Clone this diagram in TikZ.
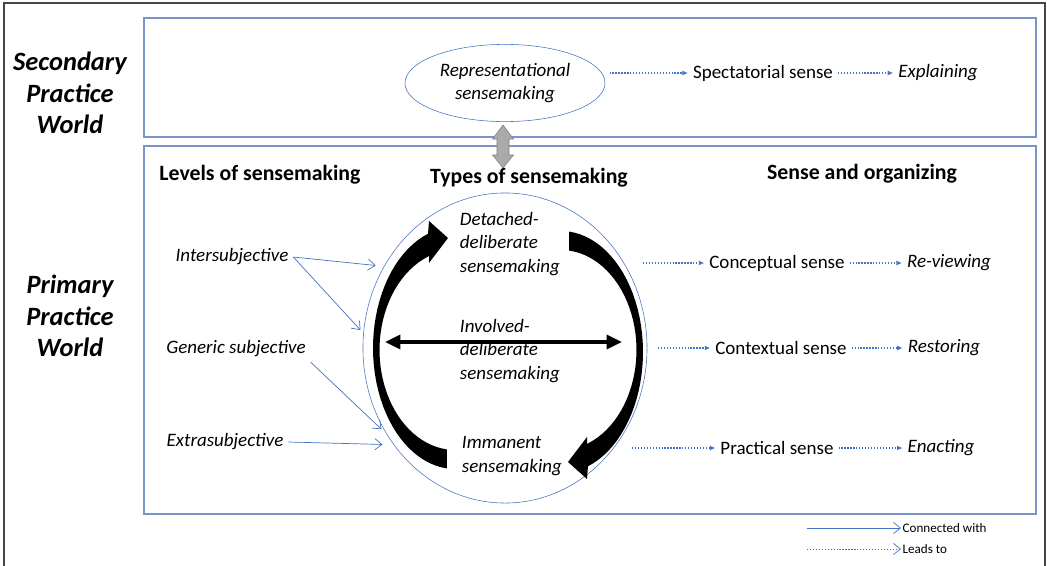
\documentclass[tikz,border=0pt]{standalone}
\usepackage{fontspec}
\setmainfont{Carlito}
\usepackage{tikz}
\usetikzlibrary{arrows.meta,shapes.geometric,calc}
\definecolor{frameblue}{RGB}{120,150,205}
\definecolor{lineblue}{RGB}{68,114,196}
\definecolor{arrowgray}{RGB}{170,170,170}
\definecolor{framegray}{RGB}{70,70,70}

\begin{document}
\begin{tikzpicture}
[x=0.025cm,y=-0.025cm,
box/.style={draw=frameblue,line width=0.9pt},
txt/.style={font=\fontsize{13.5}{16.7}\selectfont},
itxt/.style={font=\fontsize{13.5}{16.7}\selectfont\itshape},
world/.style={font=\fontsize{18.8}{22.4}\selectfont\bfseries\itshape,align=center},
head/.style={font=\fontsize{15.5}{18}\selectfont\bfseries},
legend/.style={font=\fontsize{9.3}{11}\selectfont,anchor=west,inner sep=1pt},
conn/.style={draw=lineblue,line width=0.5pt,-{Straight Barb[length=5pt,width=8pt]}},
lead/.style={draw=lineblue,dash pattern=on 0.9pt off 1.2pt,line width=0.8pt,-{Latex[length=4pt,width=3.5pt]}}]
\useasboundingbox (0,0) rectangle (1047,566);

\draw[framegray,line width=1pt] (4,566) -- (4,3) -- (1045,3) -- (1045,566);
\draw[box] (144,18) rectangle (1036,137);
\draw[box] (144,146) rectangle (1036,514);

\node (world2) at (70,93) [world] {Secondary\\Practice\\World};
\node (world1) at (70,316) [world] {Primary\\Practice\\World};

\node (rep) at (505,83) [ellipse,draw=lineblue,minimum width=5cm,minimum height=1.93cm,inner sep=0pt,align=center,itxt] {Representational\\sensemaking};
\node (spect) at (763,73) [txt] {Spectatorial sense};
\node (explain) at (938,73) [itxt] {Explaining};
\draw[lead] ([xshift=3pt]rep.east |- spect.west) -- (spect.west);
\draw[lead] (spect.east) -- (explain.west);

\draw[gray,fill=arrowgray] (503,125) -- (513.5,139) -- (509,139) -- (509,155) -- (513.5,155)
  -- (503,168) -- (492.5,155) -- (497,155) -- (497,139) -- (492.5,139) -- cycle;

\node (levels) at (260,175) [head] {Levels of sensemaking};
\node (typeshead) at (529,178) [head] {Types of sensemaking};
\node (sense) at (862,174) [head] {Sense and organizing};

\node (types) at (505,348) [ellipse,draw=lineblue,minimum width=7.1cm,minimum height=7.75cm] {};

\foreach \rot in {0,180}
  \fill[black,rotate around={\rot:(508,350)}]
    plot[domain=95.6:250.8,samples=40] ({455+82*cos(\x)},{348+121*sin(\x)})
    -- (429,221) -- (448,238) -- (429,263) -- (429,256)
    -- plot[domain=248.5:96.2,samples=40] ({455+75.5*cos(\x)},{350+100*sin(\x)}) -- cycle;

\coordinate (inl) at (385,342);
\coordinate (inr) at (622,342);
\draw[line width=2.5pt,{Triangle[length=11pt,width=10pt]}-{Triangle[length=11pt,width=10pt]}] (inl) -- (inr);

\node (det) at (455,244) [itxt,anchor=west,align=left] {Detached-\\deliberate\\sensemaking};
\node (inv) at (455,351) [itxt,anchor=west,align=left] {Involved-\\deliberate\\sensemaking};
\node (imm) at (457,456) [itxt,anchor=west,align=left] {Immanent\\sensemaking};

\node (inter) at (232,257) [itxt] {Intersubjective};
\node (gen) at (236,349) [itxt] {Generic subjective};
\node (extra) at (225,442) [itxt] {Extrasubjective};

\draw[conn,shorten >=6pt] (inter.east) -- (types.146);
\draw[conn,shorten >=3pt] (inter.east) -- (types.174);
\draw[conn,shorten >=5pt] (gen.south east) -- (types.216);
\draw[conn,shorten >=8pt] (extra.east) -- (types.221);

\node (concept) at (777,263) [txt] {Conceptual sense};
\node (review) at (949,263) [itxt] {Re-viewing};
\node (context) at (781,348) [txt] {Contextual sense};
\node (restore) at (944,348) [itxt] {Restoring};
\node (pract) at (777,448) [txt] {Practical sense};
\node (enact) at (941,448) [itxt] {Enacting};

\coordinate (o1) at (643,263);
\coordinate (o2) at (658,348);
\coordinate (o3) at (632,448);
\draw[lead] (o1) -- (concept.west);
\draw[lead] (concept.east) -- (review.west);
\draw[lead] (o2) -- (context.west);
\draw[lead] (context.east) -- (restore.west);
\draw[lead] (o3) -- (pract.west);
\draw[lead] (pract.east) -- (enact.west);

\coordinate (lg1) at (807,528);
\node (lgconn) at (901,528) [legend] {Connected with};
\draw[conn] (lg1) -- (lgconn.west);
\coordinate (lg2) at (807,549);
\node (lglead) at (901,549) [legend] {Leads to};
\draw[draw=lineblue,dash pattern=on 0.9pt off 1.2pt,line width=0.5pt,-{Straight Barb[length=5pt,width=8pt]}] (lg2) -- (lglead.west);

\end{tikzpicture}
\end{document}
